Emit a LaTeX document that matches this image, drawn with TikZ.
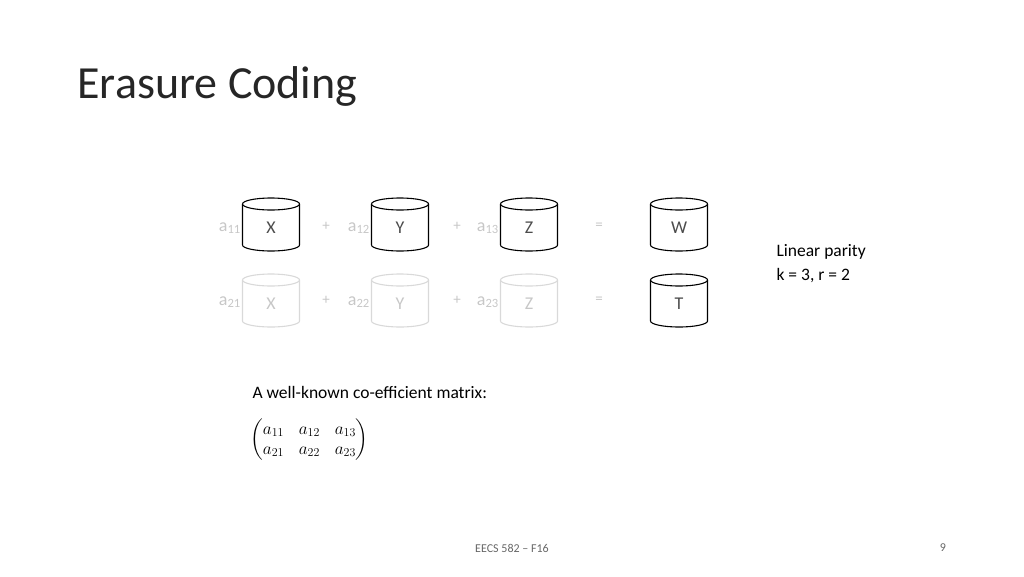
\documentclass[tikz,border=0pt]{standalone}
\usepackage{fontspec}
\usepackage{amsmath}
\setmainfont{Carlito}
\begin{document}
\begin{tikzpicture}[x=1pt,y=-1pt,
  faint/.style={text=black!22},
  lbl/.style={font=\fontsize{18}{20}\selectfont,text=black!70},
  body/.style={font=\fontsize{17.5}{24}\selectfont,anchor=west}]
\useasboundingbox (0,0) rectangle (1024,576);
\node[anchor=west,font=\fontsize{46}{52}\selectfont,text=black!85] (title) at (74,86) {Erasure Coding};
\newcommand\cyl[5]{% cx, cy, colour, label, name
  \draw[#3,line width=1.1pt] (#1-28.5,#2-22) -- (#1-28.5,#2+19) arc[start angle=180,end angle=360,x radius=28.5pt,y radius=6pt] -- (#1+28.5,#2-22);
  \draw[#3,line width=1.1pt] (#1,#2-22) ellipse[x radius=28.5pt,y radius=6pt];
  \node[lbl] (#5) at (#1,#2+2) {#4};}
\cyl{271}{226}{black}{X}{x1}
\cyl{400}{226}{black}{Y}{y1}
\cyl{529}{226}{black}{Z}{z1}
\cyl{679}{226}{black}{W}{w}
\cyl{271}{302}{black!15}{\textcolor{black!22}{X}}{x2}
\cyl{400}{302}{black!15}{\textcolor{black!22}{Y}}{y2}
\cyl{529}{302}{black!15}{\textcolor{black!22}{Z}}{z2}
\cyl{679}{302}{black}{T}{t}
\foreach \r/\y in {1/228,2/302}{
  \node[faint,font=\fontsize{18}{20}\selectfont,anchor=east,inner sep=1pt] (c\r1) at (242,\y) {a\textsubscript{\r1}};
  \node[faint,font=\fontsize{18}{20}\selectfont,anchor=east,inner sep=1pt] (c\r2) at (371,\y) {a\textsubscript{\r2}};
  \node[faint,font=\fontsize{18}{20}\selectfont,anchor=east,inner sep=1pt] (c\r3) at (500,\y) {a\textsubscript{\r3}};
  \node[faint,font=\fontsize{15}{16}\selectfont] (p\r1) at (326,\y-2) {+};
  \node[faint,font=\fontsize{15}{16}\selectfont] (p\r2) at (457,\y-2) {+};
  \node[faint,font=\fontsize{15}{16}\selectfont] (e\r) at (599,\y-2) {=};
}
\node[body,align=left] (lp) at (773,264) {Linear parity\\k = 3, r = 2};
\node[body] (wk) at (249,392) {A well-known co-efficient matrix:};
\node[anchor=west,font=\fontsize{18}{20}\selectfont,inner sep=0pt] (mat) at (250,440)
  {$\left(\begin{matrix} a_{11} & \; a_{12} & \; a_{13}\\ a_{21} & \; a_{22} & \; a_{23}\end{matrix}\right)$};
\node[font=\fontsize{12}{14}\selectfont,text=black!60] (ft) at (512,548) {EECS 582 – F16};
\node[font=\fontsize{12}{14}\selectfont,text=black!60] (pg) at (943,548) {9};
\end{tikzpicture}
\end{document}
